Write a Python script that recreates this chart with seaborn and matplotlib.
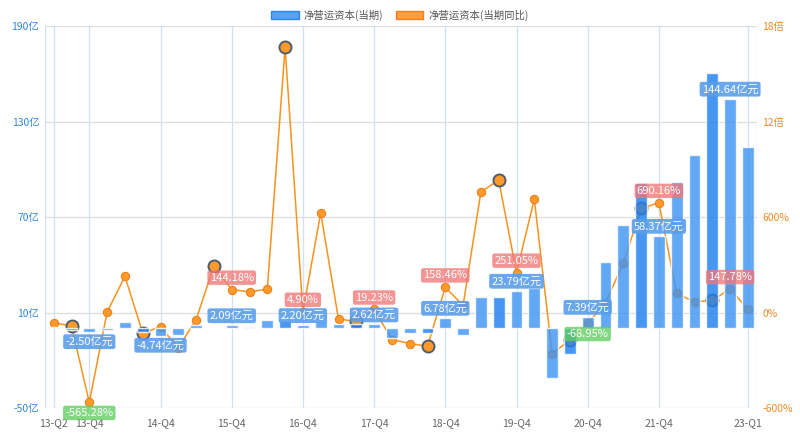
import numpy as np
import pandas as pd
import matplotlib
matplotlib.use("Agg")
import matplotlib.pyplot as plt
from matplotlib.patches import Patch
import seaborn as sns

quarters = ["13-Q2", "13-Q3", "13-Q4", "14-Q1", "14-Q2", "14-Q3", "14-Q4", "15-Q1",
            "15-Q2", "15-Q3", "15-Q4", "16-Q1", "16-Q2", "16-Q3", "16-Q4", "17-Q1",
            "17-Q2", "17-Q3", "17-Q4", "18-Q1", "18-Q2", "18-Q3", "18-Q4", "19-Q1",
            "19-Q2", "19-Q3", "19-Q4", "20-Q1", "20-Q2", "20-Q3", "20-Q4", "21-Q1",
            "21-Q2", "21-Q3", "21-Q4", "22-Q1", "22-Q2", "22-Q3", "22-Q4", "23-Q1"]
# 净营运资本(当期), 亿
nwc = [0.6, -1.0, -2.50, -1.0, 3.8, -2.5, -4.74, -4.3, 2.0, 0.3,
       2.09, 1.2, 5.0, 5.0, 2.20, 4.8, 2.6, 2.6, 2.62, -6.0,
       -2.8, -2.7, 6.78, -4.0, 19.5, 20.0, 23.79, 25.5, -31.0, -16.2,
       7.39, 41.5, 65.2, 91.2, 58.37, 92.3, 109.3, 160.5, 144.64, 113.9]
# 净营运资本(当期同比), %
yoy = [-65, -84, -565.28, 2, 228, -128, -91, -223, -44, 292,
       144.18, 130, 147, 1669, 4.90, 627, -42, -55, 19.23, -170,
       -195, -212, 158.46, 45, 759, 833, 251.05, 713, -258, -174,
       -68.95, 63, 309, 655, 690.16, 120, 67, 77, 147.78, 21]
xtick_labels = ["13-Q2", "13-Q4", "14-Q4", "15-Q4", "16-Q4", "17-Q4",
                "18-Q4", "19-Q4", "20-Q4", "21-Q4", "23-Q1"]
bar_label_q = ["13-Q4", "14-Q4", "15-Q4", "16-Q4", "17-Q4", "18-Q4",
               "19-Q4", "20-Q4", "21-Q4", "22-Q4"]
line_label_q = ["13-Q4", "15-Q4", "16-Q4", "17-Q4", "18-Q4",
                "19-Q4", "20-Q4", "21-Q4", "22-Q4"]

sns.set_theme(style="white")
plt.rcParams['font.family'] = ['Noto Sans CJK SC', 'DejaVu Sans']

df = pd.DataFrame({"q": quarters, "nwc": nwc, "yoy": yoy})
df["pos"] = np.arange(len(df))
q3 = df["q"].str.endswith("Q3")
bar_colors = ["#1E80F0" if h else "#3F95F3" for h in q3]

fig, ax = plt.subplots(figsize=(8, 4.33), dpi=100)
fig.subplots_adjust(left=0.056, right=0.946, bottom=0.058, top=0.939)
ax2 = ax.twinx()

# line on primary axis (right scale), bars on twin (left scale) so bars sit on top
ax.set_ylim(-600, 1800)
ax2.set_ylim(-50, 190)

for v in [-600, 0, 600, 1200, 1800]:
    ax.axhline(v, color="#DDDDDD", lw=0.9, zorder=0)

sns.barplot(data=df, x="q", y="nwc", hue="q", palette=bar_colors, legend=False,
            width=0.67, saturation=1, alpha=0.82, ax=ax2, zorder=3)

sns.lineplot(data=df, x="pos", y="yoy", ax=ax, color="#F7931E", lw=1.1,
             marker="o", markersize=6, markerfacecolor="#FF9A2A",
             markeredgecolor="#E8801A", zorder=2)
sns.scatterplot(data=df[q3], x="pos", y="yoy", ax=ax, s=75, color="#FF9A2A",
                edgecolor="#4E5D6C", linewidth=1.4, zorder=2.2)

ax.set_xlim(-0.5, len(quarters) - 0.5)
tick_pos = [quarters.index(q) for q in xtick_labels]
for p in tick_pos + [-0.5, len(quarters) - 0.5]:
    ax.axvline(p, color="#CFE1F5", lw=0.9, zorder=0)

# line labels: boxes are see-through so the bars tint them
for q in line_label_q:
    i = quarters.index(q)
    v = yoy[i]
    fc = "#F07878" if v >= 0 else "#5FCF5F"
    ax2.annotate(f"{v:.2f}%", xy=(i, (v / 10 + 10)), xytext=(0, 5 if v >= 0 else -4),
                 textcoords="offset points", ha="center",
                 va="bottom" if v >= 0 else "top", fontsize=8, color="white",
                 bbox=dict(boxstyle="round,pad=0.2", fc=fc, ec="none", alpha=0.78),
                 zorder=5)

# bar labels
for q in bar_label_q:
    i = quarters.index(q)
    v = nwc[i]
    ax2.annotate(f"{v:.2f}亿元", (i, v), xytext=(0, 3 if v >= 0 else -3),
                 textcoords="offset points", ha="center",
                 va="bottom" if v >= 0 else "top", fontsize=8, color="white",
                 bbox=dict(boxstyle="round,pad=0.2", fc="#5A9EEA", ec="none", alpha=0.9),
                 zorder=6)

ax.set_xticks(tick_pos)
ax.set_xticklabels(xtick_labels)
ax.tick_params(axis="x", colors="#666666", labelsize=7.5, length=0, pad=7)

ax.yaxis.tick_right()
ax.yaxis.set_label_position("right")
ax.set_yticks([-600, 0, 600, 1200, 1800])
ax.set_yticklabels(["-600%", "0%", "600%", "12倍", "18倍"])
ax.tick_params(axis="y", colors="#F08A24", labelsize=7.5, length=0, pad=4)

ax2.yaxis.tick_left()
ax2.yaxis.set_label_position("left")
ax2.set_yticks([-50, 10, 70, 130, 190])
ax2.set_yticklabels(["-50亿", "10亿", "70亿", "130亿", "190亿"])
ax2.tick_params(axis="y", colors="#2F86E0", labelsize=7.5, length=0, pad=4)
ax2.set_xlim(-0.5, len(quarters) - 0.5)

for a in (ax, ax2):
    a.set_xlabel("")
    a.set_ylabel("")
    for s in a.spines.values():
        s.set_visible(False)

handles = [Patch(fc="#55A3F5", ec="#2E86E8", label="净营运资本(当期)"),
           Patch(fc="#FF9F40", ec="#F08020", label="净营运资本(当期同比)")]
fig.legend(handles=handles, loc="upper center", bbox_to_anchor=(0.5, 1.0), ncol=2,
           frameon=False, fontsize=7.5, handlelength=2.6, handleheight=0.9,
           columnspacing=1.2, handletextpad=0.5, labelcolor="#555555")

fig.savefig("out.png", dpi=100)
